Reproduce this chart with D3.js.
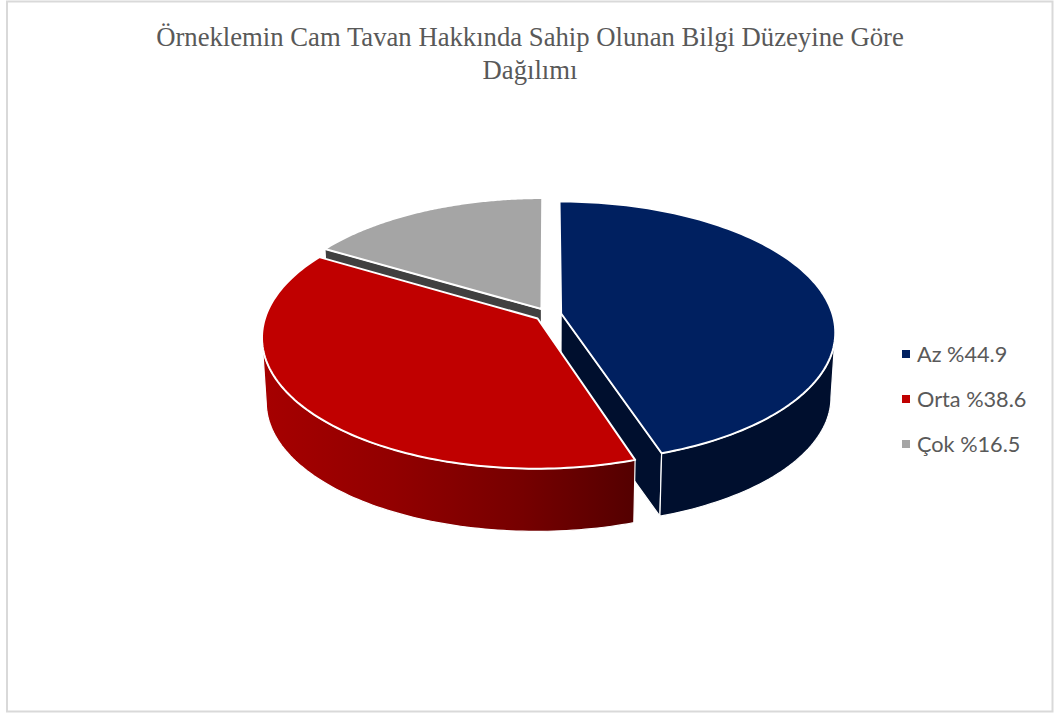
<!DOCTYPE html>
<html lang="tr">
<head>
<meta charset="utf-8">
<title>Cam Tavan Bilgi Düzeyi</title>
<script src="https://cdn.jsdelivr.net/npm/d3@7"></script>
<style>
  html, body { margin: 0; padding: 0; background: #fff; }
  svg { display: block; }
</style>
</head>
<body>
<svg id="chart" width="1057" height="713"></svg>
<script>
const titleLines = ["Örneklemin Cam Tavan Hakkında Sahip Olunan Bilgi Düzeyine Göre", "Dağılımı"];
const categories = ["Az", "Orta", "Çok"];
const shares = [44.9, 38.6, 16.5];
const topColors = ["#002060", "#c00000", "#a5a5a5"];
const cutColors = ["#000f2e", "#600000", "#404040"];
const drawOrder = ["Çok", "Az", "Orta"];

const svg = d3.select("#chart");
const topColor = d3.scaleOrdinal(categories, topColors);
const cutColor = d3.scaleOrdinal(categories, cutColors);

// Frame around the chart area
svg.append("rect")
  .attr("x", 7).attr("y", 1.5).attr("width", 1045.5).attr("height", 710)
  .attr("fill", "#fff").attr("stroke", "#d9d9d9").attr("stroke-width", 2);

// Title
svg.append("g").selectAll("text").data(titleLines).join("text")
  .attr("x", 530).attr("y", (d, i) => 46 + i * 32.5)
  .attr("text-anchor", "middle")
  .attr("font-family", "'Liberation Serif', serif")
  .attr("font-size", 26.7)
  .attr("fill", "#595959")
  .text(d => d);

// Perspective model of the tilted pie: unit-circle plan coordinates to the page
const view = { cx: 548, cy: 314.5, rx: 271.5, ry: 128, persp: 0.14, explode: 0.049, depth: 65, floor: 0.985 };

function project(px, py, lower) {
  const s = 1 / (1 - view.persp * py);
  let x = view.rx * px * s;
  let y = view.ry * py * s;
  if (lower) { x *= view.floor; y = y * view.floor + view.depth; }
  return [view.cx + x, view.cy + y];
}

const pieLayout = d3.pie().sort(null).value(d => d.share).startAngle(0).endAngle(2 * Math.PI);
const slices = pieLayout(categories.map((name, i) => ({ name, share: shares[i] })));
const line = d3.line();

function offsetOf(s) {
  const mid = (s.startAngle + s.endAngle) / 2;
  return [view.explode * Math.sin(mid), -view.explode * Math.cos(mid)];
}
function rimPoint(s, a) {
  const [ox, oy] = offsetOf(s);
  return [ox + Math.sin(a), oy - Math.cos(a)];
}
function rimAngles(s, from, to) {
  return d3.range(0, 121).map(i => from + (to - from) * i / 120);
}

const defs = svg.append("defs");
const wallFill = defs.append("linearGradient").attr("id", "wall-orta")
  .attr("gradientUnits", "userSpaceOnUse")
  .attr("x1", 262).attr("x2", 634).attr("y1", 0).attr("y2", 0);
wallFill.selectAll("stop")
  .data([[0, "#a60000"], [0.35, "#920000"], [0.7, "#760000"], [1, "#540000"]])
  .join("stop")
  .attr("offset", d => d[0]).attr("stop-color", d => d[1]);

const wallColors = { "Az": "#000f2e", "Orta": "url(#wall-orta)", "Çok": "#404040" };

const pieGroup = svg.append("g");
drawOrder.forEach(name => {
  const s = slices.find(d => d.data.name === name);
  const g = pieGroup.append("g");
  const [ox, oy] = offsetOf(s);

  // Straight cut faces that turn toward the viewer
  [[s.startAngle, -1], [s.endAngle, 1]].forEach(([a, sign]) => {
    const normalY = sign * Math.sin(a);
    if (normalY > 0.01) {
      const rim = rimPoint(s, a);
      const quad = [project(ox, oy), project(rim[0], rim[1]), project(rim[0], rim[1], true), project(ox, oy, true)];
      g.append("path").attr("d", line(quad) + "Z")
        .attr("fill", cutColor(name)).attr("stroke", "#fff").attr("stroke-width", 1.2).attr("stroke-linejoin", "round");
    }
  });

  // Outer wall: only the stretch of rim on the near side of the silhouette
  const near = rimAngles(s, s.startAngle, s.endAngle).filter(a => -Math.cos(a) >= view.persp);
  if (near.length > 1) {
    const upper = near.map(a => { const p = rimPoint(s, a); return project(p[0], p[1]); });
    const lower = near.map(a => { const p = rimPoint(s, a); return project(p[0], p[1], true); }).reverse();
    g.append("path").attr("d", line(upper.concat(lower)) + "Z")
      .attr("fill", wallColors[name]).attr("stroke", "#fff").attr("stroke-width", 1.2).attr("stroke-linejoin", "round");
  }

  // Top face
  const top = [project(ox, oy)].concat(
    rimAngles(s, s.startAngle, s.endAngle).map(a => { const p = rimPoint(s, a); return project(p[0], p[1]); })
  );
  g.append("path").attr("d", line(top) + "Z")
    .attr("fill", topColor(name)).attr("stroke", "#fff").attr("stroke-width", 2).attr("stroke-linejoin", "round");
});

// Legend
const legend = svg.append("g").selectAll("g").data(slices).join("g")
  .attr("transform", (d, i) => `translate(902, ${354 + i * 45})`);
legend.append("rect")
  .attr("x", 0).attr("y", -4).attr("width", 8).attr("height", 8)
  .attr("fill", d => topColor(d.data.name));
legend.append("text")
  .attr("x", 15).attr("y", 7.5)
  .attr("font-family", "Lato, 'Open Sans', sans-serif")
  .attr("font-size", 21.7)
  .attr("fill", "#595959")
  .text(d => `${d.data.name} %${d.data.share}`);
</script>
</body>
</html>
